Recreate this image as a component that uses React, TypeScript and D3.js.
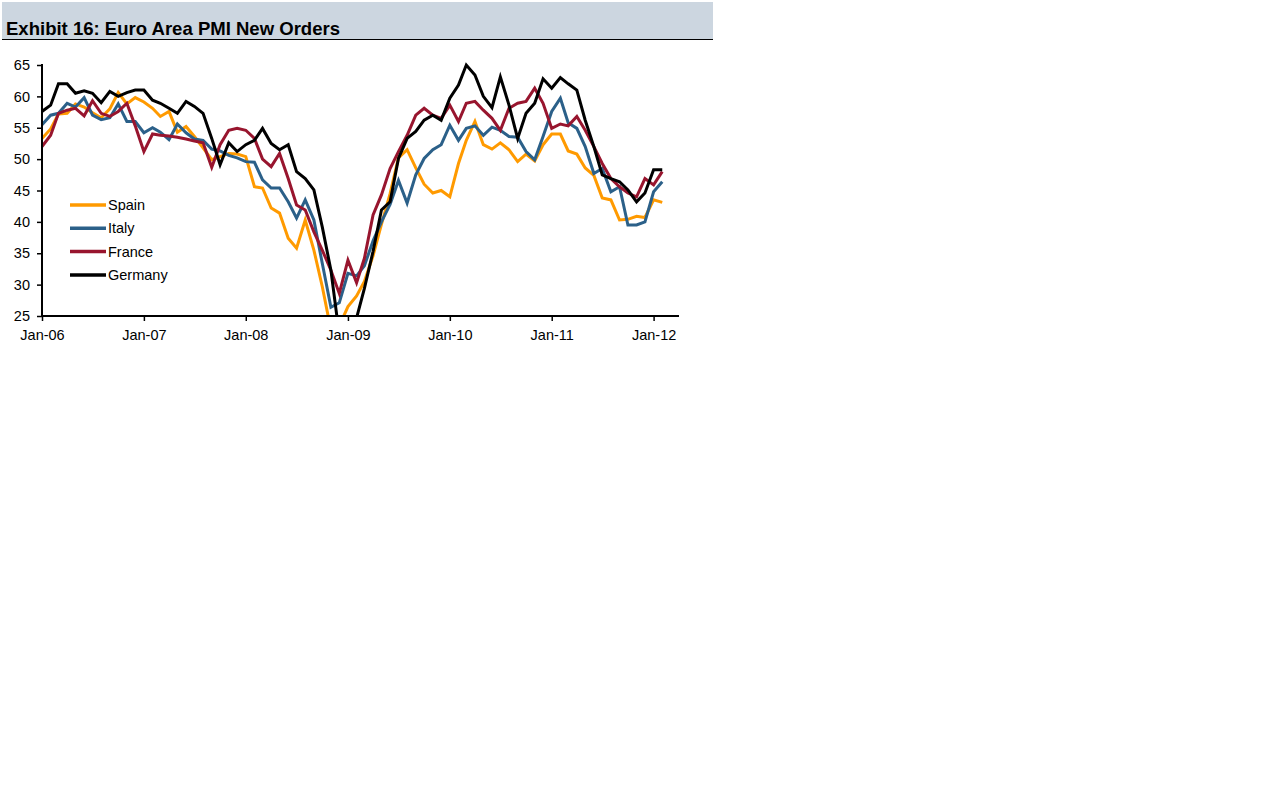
import React, { useEffect, useRef } from 'react';
import * as d3 from 'd3';

// monthly readings, Jan-06 .. Feb-12
const startYear = 2006;
const seriesNames = ['Spain', 'Italy', 'France', 'Germany'];
const seriesColors = ['#FF9A00', '#2B6089', '#98152E', '#000000'];
const yTicks = [25, 30, 35, 40, 45, 50, 55, 60, 65];

const spain = [
  53.3, 54.8, 57.2, 57.3, 58.8, 58.3, 57.4, 56.6, 58.0, 60.6, 58.8, 59.8,
  59.1, 58.1, 56.8, 57.6, 54.3, 55.2, 53.6, 51.8, 49.9, 50.4, 50.9, 50.8,
  50.4, 45.6, 45.4, 42.2, 41.4, 37.4, 35.8, 40.3, 35.5, 29.7, 22.8, 23.4,
  26.5, 28.2, 30.5, 34.6, 39.6, 44.5, 50.2, 51.5, 48.6, 46.0, 44.6, 45.0,
  44.0, 49.3, 53.0, 56.0, 52.3, 51.6, 52.6, 51.5, 49.6, 50.8, 49.7, 52.3,
  54.0, 54.0, 51.3, 50.8, 48.6, 47.4, 43.8, 43.5, 40.3, 40.4, 40.9, 40.7,
  43.5, 43.1,
];

const italy = [
  55.5, 57.0, 57.3, 58.9, 58.3, 59.8, 57.0, 56.3, 56.6, 58.8, 56.0, 56.0,
  54.2, 55.0, 54.3, 53.1, 55.6, 54.2, 53.2, 53.0, 51.6, 51.3, 50.6, 50.2,
  49.6, 49.5, 46.7, 45.4, 45.4, 43.2, 40.6, 43.5, 40.3, 33.4, 26.4, 27.1,
  31.8, 31.4, 33.0, 37.0, 40.0, 42.8, 46.6, 43.0, 47.5, 50.1, 51.5, 52.3,
  55.4, 53.0, 54.9, 55.3, 53.8, 55.1, 54.6, 53.6, 53.5, 51.2, 49.9, 53.6,
  57.6, 59.7, 55.8, 54.9, 52.0, 47.7, 48.5, 44.8, 45.6, 39.5, 39.5, 40.0,
  44.8, 46.4,
];

const france = [
  52.0, 53.8, 57.3, 57.8, 58.1, 56.9, 59.3, 57.3, 56.8, 57.6, 58.9, 55.3,
  51.2, 54.0, 53.8, 53.7, 53.5, 53.2, 52.9, 52.6, 48.7, 52.3, 54.6, 54.9,
  54.6, 53.3, 50.0, 48.8, 50.9, 46.9, 42.7, 41.9, 38.4, 35.5, 32.3, 28.6,
  33.9, 30.3, 34.2, 41.1, 44.3, 48.5, 51.2, 53.8, 57.0, 58.1, 57.0, 56.5,
  58.6, 56.0, 58.9, 59.2, 57.8, 56.5, 54.6, 58.1, 58.9, 59.2, 61.3, 58.9,
  54.9, 55.6, 55.3, 56.8, 54.6, 52.0, 49.3, 46.9, 45.6, 44.6, 44.0, 46.9,
  45.9, 48.0,
];

const germany = [
  57.6, 58.6, 62.0, 62.0, 60.5, 60.9, 60.5, 59.0, 60.8, 60.0, 60.6, 61.0,
  61.0, 59.4, 58.9, 58.1, 57.3, 59.2, 58.4, 57.3, 53.3, 49.1, 52.6, 51.2,
  52.3, 53.0, 54.9, 52.5, 51.5, 52.3, 48.0, 46.9, 45.1, 39.2, 32.3, 22.0,
  21.5, 24.7, 29.4, 35.3, 41.9, 43.2, 50.1, 53.3, 54.4, 56.2, 57.0, 56.2,
  59.7, 61.8, 65.0, 63.4, 60.0, 58.2, 63.1, 58.6, 53.3, 57.3, 58.9, 62.8,
  61.3, 63.0, 62.0, 61.0, 56.2, 52.0, 47.5, 46.9, 46.4, 45.1, 43.2, 44.6,
  48.3, 48.3,
];

const seriesValues = [spain, italy, france, germany];

const App = () => {
  const ref = useRef(null);

  useEffect(() => {
    //@ts-ignore
    const svg = d3.select(ref.current);
    svg.selectAll('*').remove();

    const font = 'Liberation Sans, Arial, sans-serif';
    const left = 42;
    const right = 679;
    const top = 65;
    const bottom = 316;

    // title band
    svg.append('rect')
      .attr('x', 2).attr('y', 2).attr('width', 711).attr('height', 38)
      .attr('fill', '#CCD6E0');
    svg.append('line')
      .attr('x1', 2).attr('x2', 713).attr('y1', 39.5).attr('y2', 39.5)
      .attr('stroke', '#000').attr('stroke-width', 1.2);
    svg.append('text')
      .attr('x', 6).attr('y', 35)
      .attr('font-family', font).attr('font-weight', 'bold')
      .attr('font-size', '19px')
      .attr('textLength', 334).attr('lengthAdjust', 'spacingAndGlyphs')
      .text('Exhibit 16: Euro Area PMI New Orders');

    const x = d3.scaleTime()
      .domain([new Date(startYear, 0, 1), new Date(startYear + 6, 3, 1)])
      .range([left, right]);
    const y = d3.scaleLinear().domain([25, 65]).range([bottom, top]);

    const clipId = 'plot-clip';
    svg.append('defs').append('clipPath').attr('id', clipId)
      .append('rect')
      .attr('x', left).attr('y', top - 4)
      .attr('width', right - left).attr('height', bottom - top + 4);

    const line = d3.line<number>()
      .x((_, i) => x(new Date(startYear, i, 1)))
      .y(d => y(d));

    const plot = svg.append('g').attr('clip-path', `url(#${clipId})`);
    seriesValues.forEach((vals, k) => {
      plot.append('path')
        .datum(vals)
        //@ts-ignore
        .attr('d', line)
        .attr('fill', 'none')
        .attr('stroke', seriesColors[k])
        .attr('stroke-width', 3)
        .attr('stroke-linejoin', 'miter');
    });

    // y axis
    const yAxis = svg.append('g')
      .attr('transform', `translate(${left},0)`)
      .call(d3.axisLeft(y).tickValues(yTicks).tickSize(5).tickPadding(7));
    // x axis
    const xAxis = svg.append('g')
      .attr('transform', `translate(0,${bottom})`)
      .call(
        d3.axisBottom(x)
          .ticks(d3.timeYear.every(1))
          //@ts-ignore
          .tickFormat(d3.timeFormat('Jan-%y'))
          .tickSize(5)
          .tickPadding(9)
      );
    [yAxis, xAxis].forEach(a => {
      a.select('.domain').attr('stroke', '#000').attr('stroke-width', 2);
      a.selectAll('.tick line').attr('stroke', '#000').attr('stroke-width', 1.5);
      a.selectAll('text')
        .attr('font-family', font)
        .attr('font-size', '14.5px')
        .attr('fill', '#000');
    });
    // axisLeft/Bottom draw outer ticks on the domain path; flatten them
    yAxis.select('.domain').attr('d', `M0,${top - 1}V${bottom}`);
    xAxis.select('.domain').attr('d', `M${left},0H${right}`);

    // legend
    const legend = svg.append('g');
    seriesNames.forEach((name, k) => {
      const ly = 205 + k * 23.3;
      legend.append('line')
        .attr('x1', 70).attr('x2', 106).attr('y1', ly).attr('y2', ly)
        .attr('stroke', seriesColors[k]).attr('stroke-width', 3.5);
      legend.append('text')
        .attr('x', 108).attr('y', ly + 5)
        .attr('font-family', font).attr('font-size', '14.5px')
        .text(name);
    });
  }, []);

  return (
    <svg
      ref={ref}
      width={1267}
      height={798}
      style={{ position: 'absolute', left: 0, top: 0, background: '#fff' }}
    ></svg>
  );
};

export default App;
